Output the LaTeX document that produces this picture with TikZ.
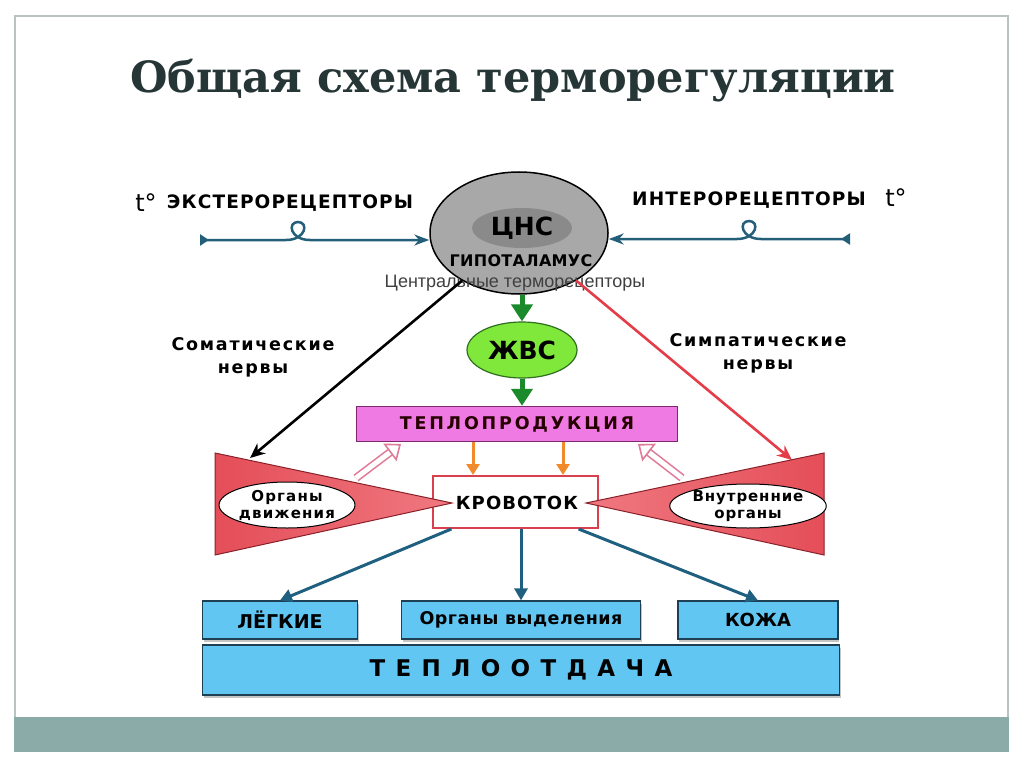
\documentclass[tikz,border=0pt]{standalone}
\usepackage{fontspec}
\setmainfont{DejaVu Sans}
\newfontfamily\titlefont{DejaVu Serif}
\newfontfamily\thinfont{Liberation Sans}
\usetikzlibrary{arrows.meta,shapes.geometric,shadows,positioning}
\definecolor{framegray}{HTML}{B8C4C4}
\definecolor{bargray}{HTML}{8AABA8}
\definecolor{titleink}{HTML}{263536}
\definecolor{rcpblue}{HTML}{245F7A}
\definecolor{cnsgray}{HTML}{A8A8A8}
\definecolor{cnsdark}{HTML}{8A8A8A}
\definecolor{zvsgreen}{HTML}{80E83A}
\definecolor{zvsline}{HTML}{2F6F1F}
\definecolor{greenarr}{HTML}{1A8A2A}
\definecolor{tpfill}{HTML}{F07AE4}
\definecolor{tpline}{HTML}{7A2A6A}
\definecolor{orangearr}{HTML}{F08A2A}
\definecolor{krred}{HTML}{D8404E}
\definecolor{trired}{HTML}{E44E58}
\definecolor{tripink}{HTML}{F07880}
\definecolor{triline}{HTML}{8A2028}
\definecolor{nervred}{HTML}{E43C48}
\definecolor{bluearr}{HTML}{1F5F7F}
\definecolor{boxblue}{HTML}{62C6F2}
\definecolor{boxline}{HTML}{1F3F55}
\definecolor{hollowpink}{HTML}{E07A98}
\newcommand{\spaced}[2]{{\addfontfeature{LetterSpace=#1}#2}}

\begin{document}
\begin{tikzpicture}[x=1pt,y=-1pt,
    lbl/.style={font=\fontsize{17.5}{21}\selectfont\bfseries, text=black, align=center, inner sep=0pt},
    rcparrow/.style={draw=rcpblue, line width=2.5pt,
      {Triangle[reversed,width=11pt,length=9pt]}-{Stealth[width=11pt,length=15pt]}},
    nerve/.style={line width=2.6pt, -{Stealth[width=13pt,length=15pt]}},
    grarr/.style={draw=greenarr, line width=5pt, -{Triangle[width=21pt,length=17pt]}},
    orarr/.style={draw=orangearr, line width=3pt, -{Triangle[width=13pt,length=11pt]}},
    blarr/.style={draw=bluearr, line width=3pt, -{Triangle[width=13pt,length=12pt]}},
    hollow/.style={draw=hollowpink, line width=1.6pt, double=white, double distance=5pt,
      -{Triangle[open,width=22pt,length=14pt,fill=white]}},
    bluebox/.style={draw=boxline, line width=1.2pt, fill=boxblue, inner sep=0pt,
      drop shadow={shadow xshift=1pt, shadow yshift=-3pt, fill=black!45}},
    oval/.style={ellipse, draw=black, line width=1pt, fill=white, inner sep=0pt, align=center,
      font=\fontsize{15}{17}\selectfont\bfseries}]
\useasboundingbox (0,0) rectangle (1024,767);
\fill[white] (0,0) rectangle (1024,767);
% slide frame
\draw[framegray, line width=1.2pt] (15,717) -- (15,16) -- (1008,16) -- (1008,717);
\fill[bargray] (14,717) rectangle (1009,752);
\node[text=titleink, font=\titlefont\bfseries\fontsize{43}{48}\selectfont] (title) at (513,81)
  {Общая схема терморегуляции};

% centre
\node[ellipse, draw=black, line width=1.5pt, fill=cnsgray, minimum width=178pt, minimum height=122pt] (cns) at (519,233) {};
\node[ellipse, fill=cnsdark, minimum width=100pt, minimum height=40pt, lbl,
  font=\fontsize{25}{27}\selectfont\bfseries] (cnsin) at (522,228) {ЦНС};
\node[lbl, font=\fontsize{16}{18}\selectfont\bfseries] (hyp) at (521,261) {\spaced{2}{ГИПОТАЛАМУС}};
\node[font=\thinfont\fontsize{18}{20}\selectfont, text=black!75, inner sep=0pt] (ctr) at (515,283)
  {Центральные терморецепторы};

% receptors
\node[font=\fontsize{24}{26}\selectfont, inner sep=0pt] (tleft) at (146,203) {t°};
\node[lbl, font=\fontsize{18.5}{21}\selectfont\bfseries] (exlab) at (290,203) {\spaced{6}{ЭКСТЕРОРЕЦЕПТОРЫ}};
\node[lbl, font=\fontsize{18.5}{21}\selectfont\bfseries] (inlab) at (749,200) {\spaced{6}{ИНТЕРОРЕЦЕПТОРЫ}};
\node[font=\fontsize{24}{26}\selectfont, inner sep=0pt] (tright) at (896,198) {t°};
\coordinate (exstart) at (200,240);
\coordinate (instart) at (850,239);
\draw[rcparrow] (exstart) -- (286,240) .. controls (306,240) and (309,222) .. (298,222)
  .. controls (287,222) and (290,240) .. (310,240) -- (exstart -| cns.west);
\draw[rcparrow] (instart) -- (761,239) .. controls (741,239) and (738,221) .. (749,221)
  .. controls (760,221) and (757,239) .. (737,239) -- (instart -| cns.east);

% nerves
\node[lbl] (soma) at (253,357) {\spaced{10}{Соматические}\\[2pt]\spaced{10}{нервы}};
\node[lbl] (symp) at (758,353) {\spaced{10}{Симпатические}\\[2pt]\spaced{10}{нервы}};
\coordinate (somaend) at (250,458);
\coordinate (sympend) at (792,460);
\draw[nerve, black] (cns) -- (somaend);
\draw[nerve, nervred] (cns) -- (sympend);

% zvs and heat production
\node[ellipse, draw=zvsline, line width=1.2pt, fill=zvsgreen, minimum width=110pt, minimum height=56pt,
  lbl, font=\fontsize{25}{27}\selectfont\bfseries] (zvs) at (522,350) {ЖВС};
\node[draw=tpline, line width=1.5pt, fill=tpfill, minimum width=321pt, minimum height=35pt,
  lbl, text=black!85!red] (tp) at (517,424) {\spaced{16}{ТЕПЛОПРОДУКЦИЯ}};
\draw[grarr] (cns.south -| zvs.north) -- (zvs.north);
\draw[grarr] (zvs.south) -- (tp.north -| zvs.south);

% blood flow
\node[draw=krred, line width=2pt, fill=white, minimum width=165pt, minimum height=52pt] (kr) at (515,502) {};
\coordinate (ora) at (473,0);
\coordinate (orb) at (563,0);
\draw[orarr] (tp.south -| ora) -- (kr.north -| ora);
\draw[orarr] (tp.south -| orb) -- (kr.north -| orb);

% effector triangles
\coordinate (lta) at (215,453);
\coordinate (ltb) at (215,555);
\coordinate (ltc) at (452,503);
\coordinate (rta) at (824,453);
\coordinate (rtb) at (824,555);
\coordinate (rtc) at (586,503);
\draw[triline, line width=1pt, left color=trired, right color=tripink] (lta) -- (ltc) -- (ltb) -- cycle;
\draw[triline, line width=1pt, right color=trired, left color=tripink] (rta) -- (rtc) -- (rtb) -- cycle;
\node[oval, minimum width=135pt, minimum height=46pt] (od) at (287,505)
  {\spaced{8}{Органы}\\\spaced{8}{движения}};
\node[oval, minimum width=139pt, minimum height=44pt] (vo) at (748,506)
  {\spaced{6}{Внутренние}\\\spaced{6}{органы}};
\node[lbl, font=\fontsize{18}{20}\selectfont\bfseries] (krtext) at (517,503) {\spaced{6}{КРОВОТОК}};
\coordinate (hla) at (356,478);
\coordinate (hlb) at (401,444);
\coordinate (hra) at (682,478);
\coordinate (hrb) at (638,444);
\draw[hollow] (hla) -- (hlb);
\draw[hollow] (hra) -- (hrb);

% heat loss
\node[bluebox, minimum width=155pt, minimum height=38pt] (lg) at (280,620)
  {\fontsize{19}{21}\selectfont\bfseries ЛЁГКИЕ};
\node[bluebox, minimum width=239pt, minimum height=38pt] (ov) at (521,620)
  {\fontsize{17.5}{20}\selectfont\bfseries\spaced{3}{Органы выделения}};
\node[bluebox, minimum width=160pt, minimum height=38pt] (kz) at (758,620)
  {\fontsize{18}{20}\selectfont\bfseries КОЖА};
\node[bluebox, minimum width=637pt, minimum height=50pt] (to) at (521,670)
  {\fontsize{23}{25}\selectfont\bfseries\spaced{45}{ТЕПЛООТДАЧА}};
\draw[blarr] (kr.203) -- (lg.north);
\draw[blarr] (kr.south -| ov.north) -- (ov.north);
\draw[blarr] (kr.-23) -- (kz.north);
\end{tikzpicture}
\end{document}
